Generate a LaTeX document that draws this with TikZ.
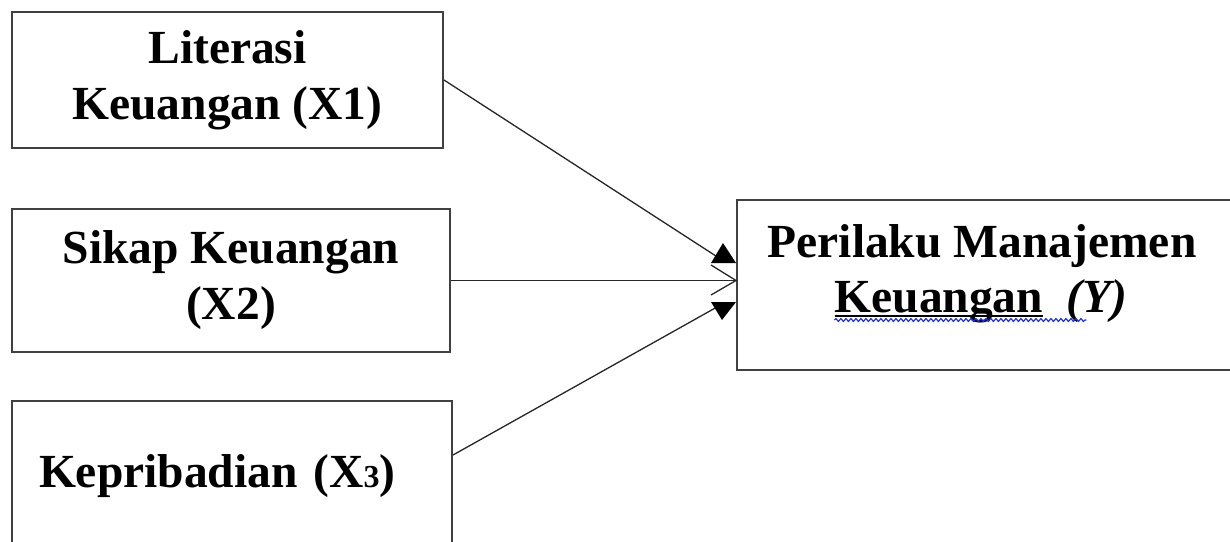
\documentclass[tikz,border=0pt]{standalone}
\usepackage{fontspec}
\setmainfont{Liberation Serif}
\usetikzlibrary{decorations.pathmorphing}
\definecolor{edgegray}{HTML}{404040}
\definecolor{spellblue}{HTML}{2030E0}
\newcommand{\ulword}[1]{\setbox0\hbox{#1}\rlap{\rule[-5pt]{\wd0}{1.6pt}}\box0}

\begin{document}
\begin{tikzpicture}[x=1pt,y=-1pt,
  varbox/.style={draw=edgegray, line width=2pt, inner sep=0pt, align=center,
    font=\bfseries\fontsize{47.5}{56}\selectfont},
  vartext/.style={inner sep=0pt, font=\bfseries\fontsize{47.5}{56}\selectfont},
  link/.style={draw=black!85, line width=1.3pt},
  tip/.style={fill=black}]
\useasboundingbox (0,0) rectangle (1230,541);
\clip (0,0) rectangle (1230,541);
\node[varbox, minimum width=431pt, minimum height=136pt] (x1) at (227.5,80) {Literasi\\Keuangan (X1)};
\node[varbox, minimum width=438pt, minimum height=143pt] (x2) at (231,280.5) {Sikap Keuangan\\(X2)};
\node[varbox, minimum height=150pt, text width=386pt, inner xsep=27pt, align=left] (x3) at (232,476)
  {Kepribadian (X{\fontsize{32}{32}\selectfont 3})};
\node[varbox, minimum width=503pt, minimum height=170pt] (y) at (988.5,285) {};
\node[vartext, anchor=base] (ytop) at (982,257) {Perilaku Manajemen};
\node[vartext, anchor=base] (ybot) at (981,312) {\ulword{Keuangan}~ \textit{(Y)}};
\draw[spellblue, line width=1.2pt, decorate, decoration={snake, amplitude=1.4pt, segment length=5pt}]
  ([yshift=-8pt]ybot.base west) -- ++(252,0);
\draw[link] (x1.east) -- ([xshift=-17pt,yshift=27pt]y.west);
\draw[link] (x2.east) -- (x2.east -| y.west);
\draw[link] ([yshift=21pt]x3.east) -- ([xshift=-19pt,yshift=-22pt]y.west);
\begin{scope}[shift={(y.west)}]
  \fill[tip] (-13,-42) -- (-25,-22) -- (0,-22) -- cycle;
  \draw[link] (-25,-20) -- (0,-4.5) -- (-25,10);
  \fill[tip] (-25,17) -- (0,17) -- (-14,35) -- cycle;
\end{scope}
\end{tikzpicture}
\end{document}
